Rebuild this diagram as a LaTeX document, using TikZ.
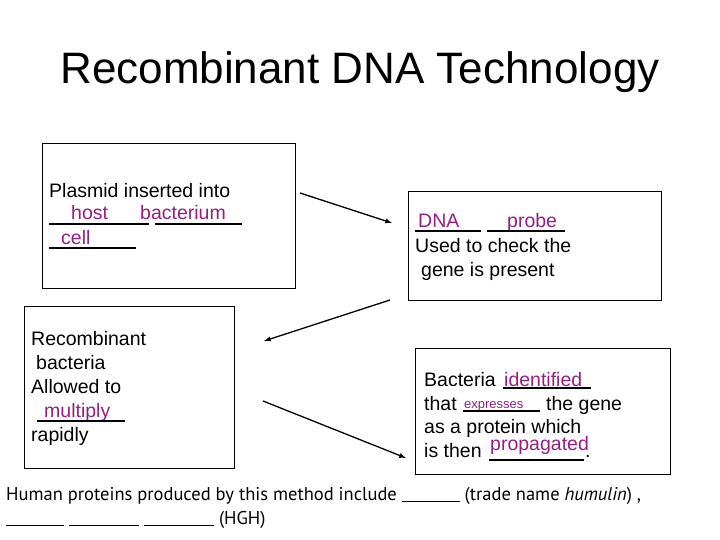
\documentclass[tikz,border=0pt]{standalone}
\usepackage{fontspec}
\setmainfont{Liberation Sans}
\newfontfamily\comic{PT Sans}
\definecolor{mag}{RGB}{150,30,130}
\begin{document}
\begin{tikzpicture}[x=1pt,y=-1pt,
  box/.style={draw,line width=1pt},
  t/.style={anchor=base west,inner sep=0,font=\fontsize{19.5}{19.5}\selectfont},
  m/.style={t,text=mag},
  ul/.style={line width=1.2pt},
  arr/.style={-latex,line width=1.3pt}]
\useasboundingbox (0,0) rectangle (720,540);
\node[anchor=base,inner sep=0,font=\fontsize{44}{44}\selectfont] (title) at (360,84) {Recombinant DNA Technology};
% box 1
\draw[box] (42,144) rectangle (295,288);
\node[t] (b1a) at (49,198) {Plasmid inserted into};
\node[m] (b1b) at (71,219) {host};
\node[m] (b1c) at (140,219) {bacterium};
\draw[ul] (49,224) -- (149,224) (155,224) -- (242,224) (49,248) -- (136,248);
\node[m] (b1d) at (61,244) {cell};
% box 2
\draw[box] (24,306) rectangle (234,468);
\node[t] (b2a) at (31,345) {Recombinant};
\node[t] (b2b) at (36,369) {bacteria};
\node[t] (b2c) at (31,393) {Allowed to};
\node[m] (b2d) at (44,417) {multiply};
\draw[ul] (37,421) -- (125,421);
\node[t] (b2e) at (31,441) {rapidly};
% box 3
\draw[box] (408,192) rectangle (661,300);
\node[m] (b3a) at (418,227) {DNA};
\node[m] (b3b) at (507,227) {probe};
\draw[ul] (415,231) -- (481,231) (487,231) -- (565,231);
\node[t] (b3c) at (415,252) {Used to check the};
\node[t] (b3d) at (421,276) {gene is present};
% box 4
\draw[box] (415,348) rectangle (670,474);
\node[t] (b4a) at (424,386) {Bacteria};
\node[m] (b4b) at (504,386) {identified};
\draw[ul] (503,388) -- (591,388);
\node[t] (b4c) at (424,410) {that};
\node[m,font=\fontsize{13}{13}\selectfont] (b4d) at (464,408) {expresses};
\draw[ul] (463,411) -- (540,411);
\node[t] (b4e) at (546,410) {the gene};
\node[t] (b4f) at (424,433) {as a protein which};
\node[t] (b4g) at (424,457) {is then};
\node[m] (b4h) at (490,450) {propagated};
\draw[ul] (489,460) -- (584,460);
\node[t] (b4i) at (585,457) {.};
% arrows
\coordinate (a1s) at (300,193); \coordinate (a1e) at (392,223);
\coordinate (a2s) at (390,300); \coordinate (a2e) at (264,341);
\coordinate (a3s) at (263,401); \coordinate (a3e) at (406,458);
\draw[arr] (a1s) -- (a1e);
\draw[arr] (a2s) -- (a2e);
\draw[arr] (a3s) -- (a3e);
% bottom text
\node[anchor=base west,inner sep=0,font=\comic\fontsize{18.5}{18.5}\selectfont] (bt1) at (6,500) {Human proteins produced by this method include \rule[-2pt]{58pt}{1.2pt} (trade name \textit{humulin}) ,};
\node[anchor=base west,inner sep=0,font=\comic\fontsize{18.5}{18.5}\selectfont] (bt2) at (6,524) {\rule[-2pt]{58pt}{1.2pt} \rule[-2pt]{70pt}{1.2pt} \rule[-2pt]{70pt}{1.2pt} (HGH)};
\end{tikzpicture}
\end{document}
